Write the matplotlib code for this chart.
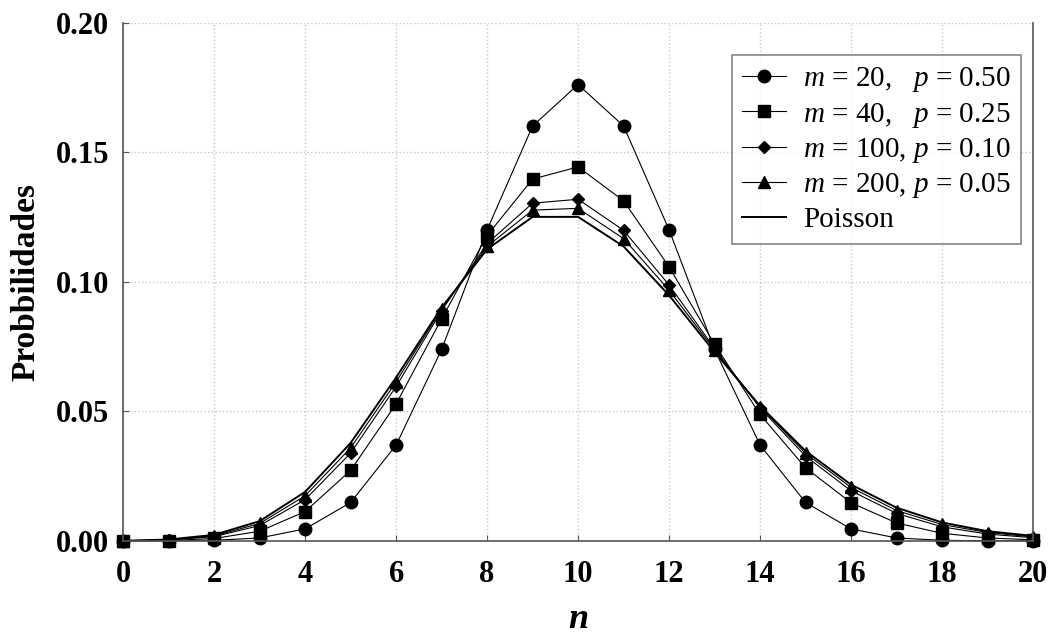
import numpy as np
import matplotlib.pyplot as plt

plt.rcParams['font.family'] = ['Liberation Serif', 'DejaVu Serif']
plt.rcParams['mathtext.fontset'] = 'custom'
plt.rcParams['mathtext.rm'] = 'Liberation Serif'
plt.rcParams['mathtext.it'] = 'Liberation Serif:italic'

n = list(range(21))

# values
m20 = [0.0000, 0.0000, 0.0002, 0.0011, 0.0046, 0.0148, 0.0370, 0.0739, 0.1201, 0.1602, 0.1762,
       0.1602, 0.1201, 0.0739, 0.0370, 0.0148, 0.0046, 0.0011, 0.0002, 0.0000, 0.0000]
m40 = [0.0000, 0.0001, 0.0009, 0.0037, 0.0113, 0.0272, 0.0529, 0.0857, 0.1179, 0.1397, 0.1444,
       0.1313, 0.1058, 0.0759, 0.0488, 0.0282, 0.0147, 0.0069, 0.0029, 0.0011, 0.0004]
m100 = [0.0000, 0.0003, 0.0016, 0.0059, 0.0159, 0.0339, 0.0596, 0.0889, 0.1148, 0.1304, 0.1319,
        0.1199, 0.0988, 0.0743, 0.0513, 0.0327, 0.0193, 0.0106, 0.0054, 0.0026, 0.0012]
m200 = [0.0000, 0.0004, 0.0019, 0.0067, 0.0174, 0.0359, 0.0614, 0.0896, 0.1137, 0.1277, 0.1284,
        0.1167, 0.0968, 0.0737, 0.0518, 0.0338, 0.0206, 0.0117, 0.0063, 0.0032, 0.0015]
poisson = [0.0000, 0.0005, 0.0023, 0.0076, 0.0189, 0.0378, 0.0631, 0.0901, 0.1126, 0.1251, 0.1251,
           0.1137, 0.0948, 0.0729, 0.0521, 0.0347, 0.0217, 0.0128, 0.0071, 0.0037, 0.0019]

labels = [r"$m$ = 20,   $p$ = 0.50", r"$m$ = 40,   $p$ = 0.25",
          r"$m$ = 100, $p$ = 0.10", r"$m$ = 200, $p$ = 0.05", "Poisson"]

fig = plt.figure(figsize=(10.53, 6.37), dpi=100)
ax = fig.add_axes([0.117, 0.151, 0.864, 0.813])

ax.plot(n, m20, color='black', lw=0.8, marker='o', ms=9, label=labels[0], clip_on=False)
ax.plot(n, m40, color='black', lw=0.8, marker='s', ms=9, label=labels[1], clip_on=False)
ax.plot(n, m100, color='black', lw=0.8, marker='D', ms=6.5, label=labels[2], clip_on=False)
ax.plot(n, m200, color='black', lw=0.8, marker='^', ms=8, label=labels[3], clip_on=False)
ax.plot(n, poisson, color='black', lw=1.4, label=labels[4])

ax.set_xlim(0, 20)
ax.set_ylim(0, 0.20)
ax.set_xticks(range(0, 21, 2))
ax.set_yticks([0, 0.05, 0.10, 0.15, 0.20])
ax.set_yticklabels(["0.00", "0.05", "0.10", "0.15", "0.20"])
ax.grid(True, linestyle=':', color='#c8c8c8', lw=1)
ax.set_axisbelow(True)

for lab in ax.get_xticklabels() + ax.get_yticklabels():
    lab.set_fontweight('bold')
    lab.set_fontsize(22)
ax.tick_params(direction='in', length=4, color='#555555')
ax.tick_params(axis='x', pad=14)
ax.tick_params(axis='y', pad=10)

ax.spines['top'].set_visible(False)
for s in ['left', 'bottom', 'right']:
    ax.spines[s].set_color('#555555')
    ax.spines[s].set_linewidth(1.2)

ax.set_ylabel("Probbilidades", fontsize=24, fontweight='bold', labelpad=10)
ax.set_xlabel("n", fontsize=26, fontweight='bold', fontstyle='italic', labelpad=10)

leg = ax.legend(loc='upper right', bbox_to_anchor=(0.987, 0.938), fontsize=21, frameon=True,
                fancybox=False, edgecolor='#666666', handlelength=1.5, labelspacing=0.22,
                borderpad=0.35, handletextpad=0.6, borderaxespad=0)
leg.get_frame().set_linewidth(1.2)

fig.savefig("out.png", dpi=100)
